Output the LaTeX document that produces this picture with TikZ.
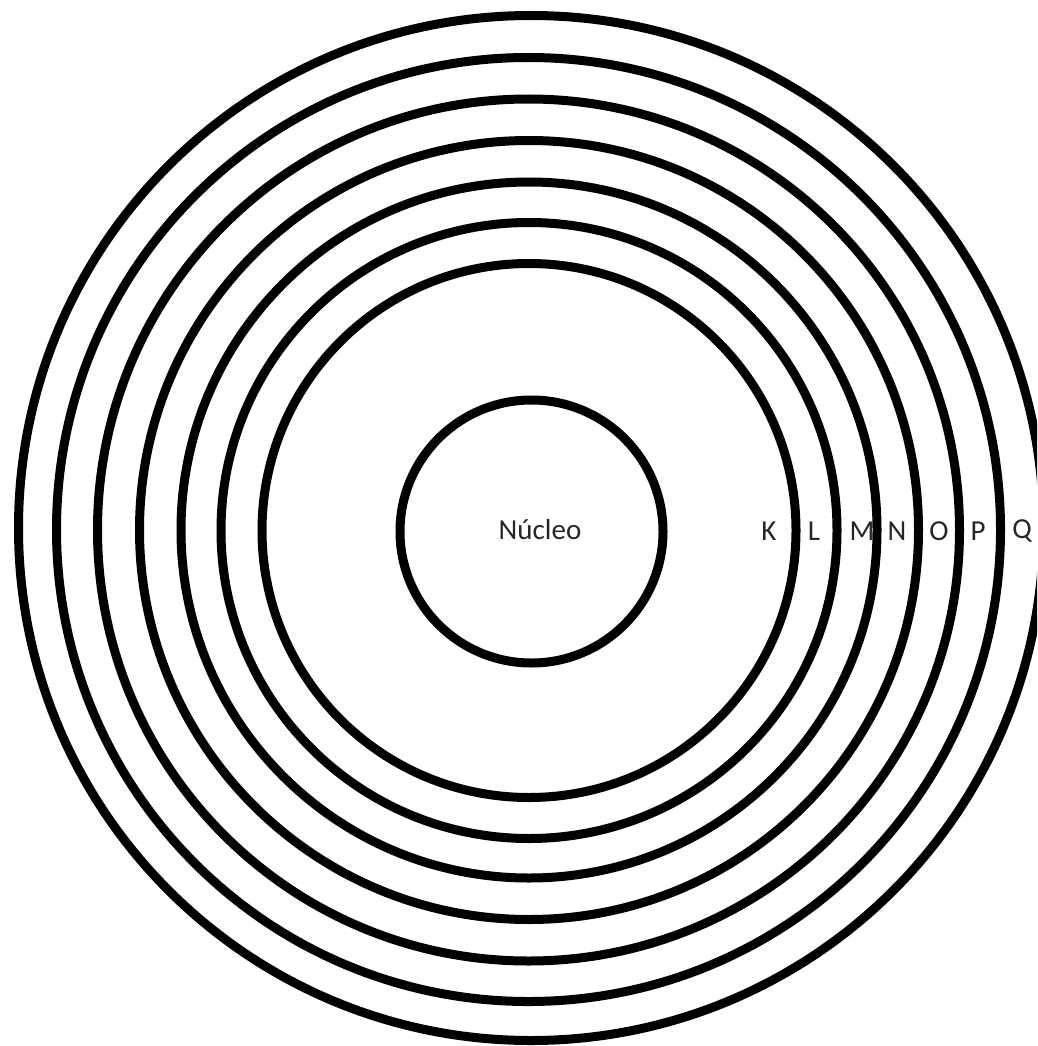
\documentclass[tikz,border=0pt]{standalone}
\usepackage{fontspec}
\setmainfont{Carlito}
\begin{document}
\begin{tikzpicture}[x=1pt,y=-1pt,
  shell/.style={circle, draw=black, line width=9pt, inner sep=0pt, minimum size=#1},
  lbl/.style={font=\fontsize{29}{32}\selectfont, text=black!85, inner sep=0pt}]
\useasboundingbox (0,0) rectangle (1037,1046);
\clip (0,0) rectangle (1037,1046);
\node[shell=263pt] (nucleo) at (531.5,531.5) {};
\node[shell=534pt] (K) at (529,530.5) {};
\node[shell=616pt] (L) at (529,530.5) {};
\node[shell=696pt] (M) at (529,530) {};
\node[shell=779pt] (N) at (529,530) {};
\node[shell=862pt] (O) at (528.5,530) {};
\node[shell=944pt] (P) at (528.5,529.5) {};
\node[shell=1025pt] (Q) at (531,528) {};
\node[lbl] (tn) at (540,530) {Núcleo};
\node[lbl] (tK) at (769,531) {K};
\node[lbl] (tL) at (814,531) {L};
\node[lbl] (tM) at (862,531) {M};
\node[lbl] (tN) at (897,531) {N};
\node[lbl] (tO) at (939,531) {O};
\node[lbl] (tP) at (978,531) {P};
\node[lbl] (tQ) at (1022,531) {Q};
\end{tikzpicture}
\end{document}
